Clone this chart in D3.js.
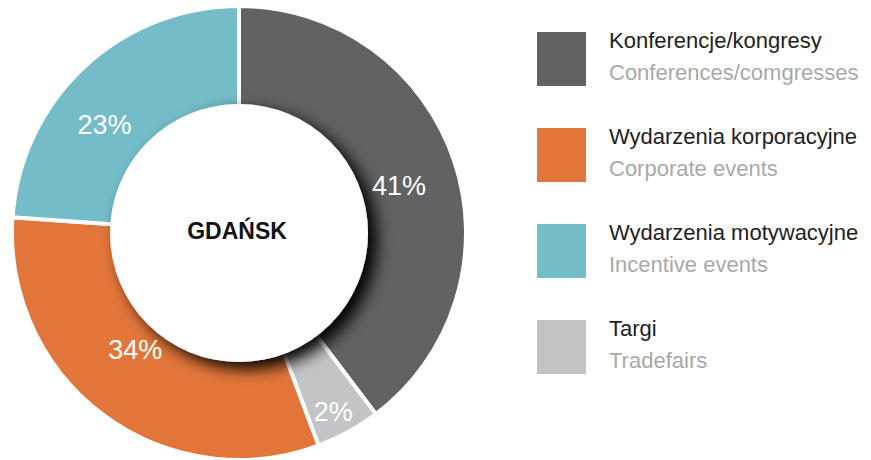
<!DOCTYPE html>
<html lang="pl">
  <head>
    <meta charset="UTF-8" />
    <title>Gdańsk – rodzaje wydarzeń</title>
    <script src="https://d3js.org/d3.v7.min.js"></script>
    <style>
      body {
        margin: 0;
        background: #fff;
      }
      text {
        font-family: "Liberation Sans", Arial, Helvetica, sans-serif;
      }
    </style>
  </head>
  <body>
    <script>
      // Categories (Polish / English), as printed in the legend
      const categoriesPl = [
        "Konferencje/kongresy",
        "Wydarzenia korporacyjne",
        "Wydarzenia motywacyjne",
        "Targi",
      ];
      const categoriesEn = [
        "Conferences/comgresses",
        "Corporate events",
        "Incentive events",
        "Tradefairs",
      ];
      // Printed percentage labels
      const percentLabels = ["41%", "34%", "23%", "2%"];
      const sliceShares = [39.7, 31.8, 23.9, 4.6];
      // clockwise order of slices starting at 12 o'clock
      const sliceOrder = [0, 3, 1, 2];
      const colors = ["#616264", "#e2763a", "#75bcc9", "#c3c4c6"];
      const centerLabel = "GDAŃSK";

      const width = 871,
        height = 460;
      const cx = 239,
        cy = 233;
      const outerR = 227,
        innerR = 129;
      // distance of each percentage label from the centre, and small angle nudges (deg)
      const labelRadius = [167, 156, 173, 202];
      const labelNudge = [2, 5, -8, 1];

      const svg = d3
        .select("body")
        .append("svg")
        .attr("width", width)
        .attr("height", height);

      // drop shadow for the inner white disc
      const defs = svg.append("defs");
      const shadow = defs
        .append("filter")
        .attr("id", "innerShadow")
        .attr("x", "-30%")
        .attr("y", "-30%")
        .attr("width", "160%")
        .attr("height", "160%");
      shadow
        .append("feDropShadow")
        .attr("dx", 9)
        .attr("dy", 7)
        .attr("stdDeviation", 8)
        .attr("flood-color", "#000")
        .attr("flood-opacity", 1);

      const slices = sliceOrder.map((i) => ({
        idx: i,
        value: sliceShares[i],
      }));

      const pie = d3
        .pie()
        .sort(null)
        .value((d) => d.value);

      const arc = d3.arc().innerRadius(110).outerRadius(outerR);

      const g = svg.append("g").attr("transform", `translate(${cx},${cy})`);
      const arcs = pie(slices);

      g.selectAll("path.slice")
        .data(arcs)
        .join("path")
        .attr("class", "slice")
        .attr("d", arc)
        .attr("fill", (d) => colors[d.data.idx])
        .attr("stroke", "#fff")
        .attr("stroke-width", 4)
        .attr("stroke-linejoin", "miter");

      // inner disc with shadow
      g.append("circle")
        .attr("r", innerR)
        .attr("fill", "#fff")
        .attr("filter", "url(#innerShadow)");

      function labelPos(d) {
        const i = d.data.idx;
        const a =
          (d.startAngle + d.endAngle) / 2 + (labelNudge[i] * Math.PI) / 180;
        const r = labelRadius[i];
        return [r * Math.sin(a), -r * Math.cos(a)];
      }

      g.selectAll("text.pct")
        .data(arcs)
        .join("text")
        .attr("class", "pct")
        .attr("transform", (d) => `translate(${labelPos(d)})`)
        .attr("text-anchor", "middle")
        .attr("dy", "0.36em")
        .attr("fill", "#fff")
        .attr("font-size", 27)
        .text((d) => percentLabels[d.data.idx]);

      g.append("text")
        .attr("x", -2)
        .attr("y", 6)
        .attr("text-anchor", "middle")
        .attr("font-size", 23)
        .attr("font-weight", "bold")
        .attr("fill", "#111")
        .text(centerLabel);

      // legend
      const legend = svg
        .append("g")
        .attr("transform", "translate(537,32)")
        .selectAll("g")
        .data(categoriesPl)
        .join("g")
        .attr("transform", (d, i) => `translate(0,${i * 96})`);

      legend
        .append("rect")
        .attr("width", 49)
        .attr("height", 54)
        .attr("fill", (d, i) => colors[i]);

      legend
        .append("text")
        .attr("x", 72)
        .attr("y", 16)
        .attr("font-size", 22)
        .attr("fill", "#222")
        .text((d) => d);

      legend
        .append("text")
        .attr("x", 72)
        .attr("y", 48)
        .attr("font-size", 22)
        .attr("fill", "#a9a9a9")
        .text((d, i) => categoriesEn[i]);
    </script>
  </body>
</html>
